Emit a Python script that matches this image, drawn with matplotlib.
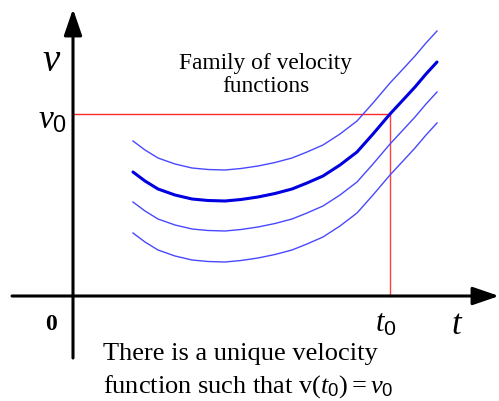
import matplotlib.pyplot as plt
import numpy as np

plt.rcParams['mathtext.fontset'] = 'custom'
plt.rcParams['mathtext.rm'] = 'Liberation Serif'
plt.rcParams['mathtext.it'] = 'Liberation Serif:italic'
plt.rcParams['mathtext.sf'] = 'Liberation Sans'

# main velocity function (t, v)
t_vals = [0.60, 0.72, 0.85, 1.02, 1.19, 1.35, 1.52, 1.68, 1.85, 2.02, 2.19,
          2.34, 2.50, 2.67, 2.84, 3.00, 3.17, 3.30, 3.42, 3.53, 3.64]
v_vals = [1.24, 1.15, 1.07, 1.01, 0.97, 0.955, 0.95, 0.965, 0.99, 1.025, 1.07,
          1.13, 1.20, 1.31, 1.44, 1.62, 1.82, 1.96, 2.09, 2.22, 2.34]
# vertical shifts of the family members
offsets = [0.31, 0.0, -0.30, -0.61]
t0 = 3.17
v0 = 1.82

fig = plt.figure(figsize=(4.99, 4.02), dpi=100)
ax = fig.add_axes([0, 0, 1, 1])
ax.set_xlim(-0.73, 4.26)
ax.set_ylim(-1.05, 2.97)
ax.axis('off')

t = np.array(t_vals)
v = np.array(v_vals)
for off in offsets:
    if off == 0:
        ax.plot(t, v + off, color='#0000e0', lw=2.2, solid_joinstyle='round',
                solid_capstyle='round', zorder=3)
    else:
        ax.plot(t, v + off, color='#4848ff', lw=1.0, solid_joinstyle='round', zorder=3)

# red guide lines
ax.plot([0, t0], [v0, v0], color='#ff2828', lw=1.0, zorder=2)
ax.plot([t0, t0], [0, v0], color='#ff4040', lw=1.0, zorder=2)

# axes with arrows
arrow = dict(arrowstyle='-|>,head_length=16,head_width=5.5', mutation_scale=1,
             color='black', lw=2.2, shrinkA=0, shrinkB=0)
ax.annotate('', xy=(0, 2.87), xytext=(0, -0.62), arrowprops=arrow, zorder=4)
ax.annotate('', xy=(4.26, 0), xytext=(-0.61, 0), arrowprops=arrow, zorder=4)

# labels
ax.text(-0.22, 2.36, 'v', fontsize=28, family='Liberation Serif', style='italic',
        ha='center', va='center')
ax.text(-0.21, 1.78, r'$v_{\mathsf{0}}$', fontsize=24, ha='center', va='center')
ax.text(-0.22, -0.27, '0', fontsize=17, family='Liberation Serif', weight='bold',
        ha='center', va='center')
ax.text(3.13, -0.27, r'$t_{\mathsf{0}}$', fontsize=22, ha='center', va='center')
ax.text(3.84, -0.27, r'$t$', fontsize=25, ha='center', va='center')

ax.text(1.93, 2.22, 'Family of velocity\nfunctions', fontsize=16.8,
        family='Liberation Serif', ha='center', va='center', linespacing=1.1)
ax.text(0.30, -0.57, 'There is a unique velocity', fontsize=19,
        family='Liberation Serif', ha='left', va='center')
ax.text(0.30, -0.90, r'function such that v$(t_{\mathsf{0}})=v_{\mathsf{0}}$', fontsize=19,
        family='Liberation Serif', ha='left', va='center')

fig.savefig('out.png', dpi=100)
